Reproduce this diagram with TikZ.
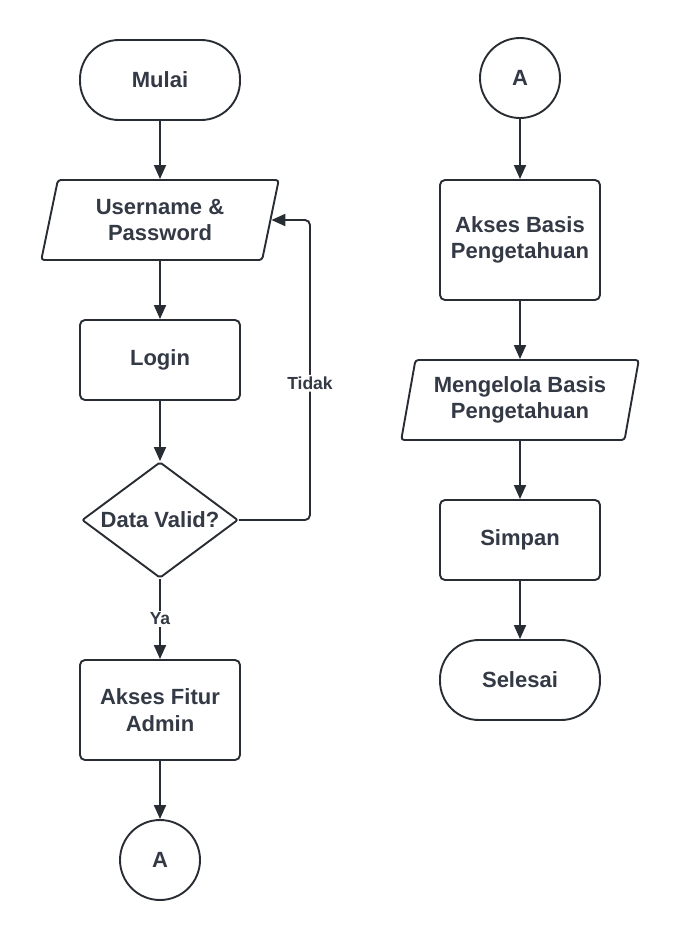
\documentclass[tikz,border=0pt]{standalone}
\usepackage{fontspec}
\setmainfont{Liberation Sans}
\usetikzlibrary{shapes.geometric,arrows.meta,calc}
\definecolor{ln}{HTML}{282C33}
\definecolor{tx}{HTML}{333945}
\begin{document}
\begin{tikzpicture}[x=1pt,y=-1pt,
  txt/.style={text=tx,font=\fontsize{22}{26.5}\selectfont\bfseries,align=center},
  base/.style={draw=ln,line width=1.9pt,fill=white,txt,inner sep=0pt},
  term/.style={base,rectangle,rounded corners=39pt,minimum width=160pt,minimum height=80pt},
  proc/.style={base,rectangle,rounded corners=5pt,minimum width=160pt,minimum height=80pt},
  io/.style={base,trapezium,trapezium left angle=76,trapezium right angle=104,trapezium stretches=true,rounded corners=3pt,minimum width=238pt,minimum height=80pt},
  dec/.style={base,diamond,minimum width=156pt,minimum height=116pt,rounded corners=2pt},
  conn/.style={base,circle,minimum size=80pt},
  arr/.style={draw=ln,line width=1.9pt,-{Triangle[length=14pt,width=12pt]}},
  lbl/.style={fill=white,text=tx,font=\fontsize{17.5}{20}\selectfont\bfseries,inner sep=2pt}
]
\useasboundingbox (0,0) rectangle (680,940);
% left column
\node[term] (mulai) at (160,80) {Mulai};
\node[io] (uname) at (160,220) {Username \&\\Password};
\node[proc] (login) at (160,360) {Login};
\node[dec,label={[txt]center:Data Valid?}] (dv) at (160,520) {};
\node[proc,minimum height=100pt] (admin) at (160,710) {Akses Fitur\\Admin};
\node[conn] (a1) at (160,860) {A};
% right column
\node[conn] (a2) at (520,78) {A};
\node[proc,minimum height=120pt] (akses) at (520,240) {Akses Basis\\Pengetahuan};
\node[io] (kelola) at (520,400) {Mengelola Basis\\Pengetahuan};
\node[proc] (simpan) at (520,540) {Simpan};
\node[term] (selesai) at (520,680) {Selesai};
\coordinate (c1) at (310,220);
% connectors
\draw[arr] (mulai) -- (uname);
\draw[arr] (uname) -- (login);
\draw[arr] (login) -- (dv);
\draw[arr] (dv) -- node[lbl] {Ya} (admin);
\draw[arr] (admin) -- (a1);
\draw[arr,rounded corners=5pt] (dv.east) -| node[lbl,pos=0.728] {Tidak} (c1) -- (uname.east);
\draw[arr] (a2) -- (akses);
\draw[arr] (akses) -- (kelola);
\draw[arr] (kelola) -- (simpan);
\draw[arr] (simpan) -- (selesai);
\end{tikzpicture}
\end{document}
